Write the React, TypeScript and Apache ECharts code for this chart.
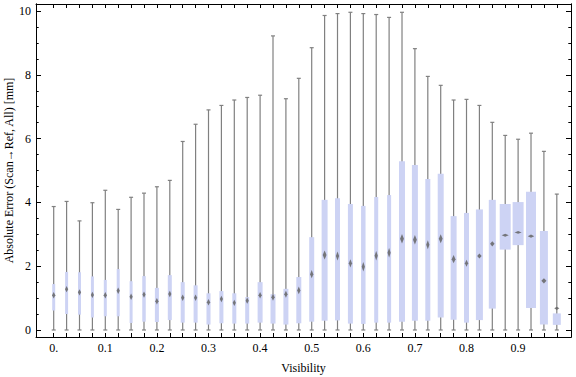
import React, { useEffect, useRef } from 'react';
import * as echarts from 'echarts';

// Box positions (visibility) and statistics (absolute error, mm)
const visibility = [
  0, 0.025, 0.05, 0.075, 0.1, 0.125, 0.15, 0.175, 0.2, 0.225,
  0.25, 0.275, 0.3, 0.325, 0.35, 0.375, 0.4, 0.425, 0.45, 0.475,
  0.5, 0.525, 0.55, 0.575, 0.6, 0.625, 0.65, 0.675, 0.7, 0.725,
  0.75, 0.775, 0.8, 0.825, 0.85, 0.875, 0.9, 0.925, 0.95, 0.975,
];
const whiskerLow = [
  0, 0, 0, 0, 0, 0, 0, 0, 0, 0,
  0, 0, 0, 0, 0, 0, 0, 0, 0, 0,
  0, 0, 0, 0, 0, 0, 0, 0, 0, 0,
  0, 0, 0, 0, 0, 0, 0, 0, 0, 0,
];
const quartile1 = [
  0.61, 0.5, 0.48, 0.39, 0.43, 0.43, 0.22, 0.26, 0.25, 0.31,
  0.23, 0.23, 0.17, 0.21, 0.2, 0.2, 0.23, 0.2, 0.17, 0.21,
  0.26, 0.29, 0.3, 0.2, 0.19, 0.23, 0.23, 0.26, 0.29, 0.29,
  0.39, 0.32, 0.23, 0.31, 0.67, 2.52, 2.66, 0.69, 0.17, 0.16,
];
const median = [
  1.09, 1.28, 1.18, 1.1, 1.09, 1.23, 1.04, 1.11, 0.9, 1.13,
  1.01, 1.01, 0.87, 0.97, 0.85, 0.92, 1.09, 1.03, 1.12, 1.24,
  1.75, 2.35, 2.32, 2.09, 1.98, 2.33, 2.42, 2.86, 2.83, 2.67,
  2.86, 2.22, 2.09, 2.32, 2.7, 2.97, 3.06, 2.94, 1.54, 0.68,
];
const quartile3 = [
  1.44, 1.82, 1.81, 1.68, 1.57, 1.91, 1.53, 1.69, 1.32, 1.72,
  1.5, 1.4, 1.15, 1.22, 1.15, 1.03, 1.5, 1.12, 1.29, 1.66,
  2.91, 4.08, 4.13, 3.95, 3.89, 4.17, 4.23, 5.29, 5.17, 4.73,
  4.9, 3.57, 3.67, 3.78, 4.08, 3.95, 4.01, 4.33, 3.1, 0.52,
];
const whiskerHigh = [
  3.87, 4.03, 3.42, 3.99, 4.38, 3.78, 4.16, 4.29, 4.49, 4.69,
  5.91, 6.45, 6.9, 7.04, 7.21, 7.29, 7.36, 9.22, 7.25, 7.89,
  8.85, 9.86, 9.92, 9.96, 9.92, 9.89, 9.8, 9.96, 8.82, 7.95,
  7.67, 7.21, 7.23, 7.04, 6.51, 6.1, 5.98, 6.17, 5.6, 4.26,
];
// box width (in visibility units) and median-marker half height (mm)
const boxWidth = [
  0.0058, 0.0058, 0.0058, 0.0058, 0.0058, 0.0058, 0.0058, 0.0068, 0.0078, 0.0078,
  0.0078, 0.0078, 0.0078, 0.0078, 0.0078, 0.0078, 0.0097, 0.0097, 0.0097, 0.0097,
  0.0097, 0.0116, 0.0097, 0.0097, 0.0087, 0.0078, 0.0078, 0.0116, 0.0116, 0.0097,
  0.0116, 0.0116, 0.0097, 0.0136, 0.0136, 0.0213, 0.0213, 0.0194, 0.0155, 0.0155,
];
const medianNotch = [
  0.1, 0.1, 0.1, 0.1, 0.1, 0.1, 0.1, 0.1, 0.1, 0.1,
  0.1, 0.1, 0.1, 0.1, 0.1, 0.1, 0.1, 0.11, 0.11, 0.12,
  0.13, 0.14, 0.14, 0.13, 0.15, 0.15, 0.15, 0.15, 0.15, 0.14,
  0.14, 0.13, 0.11, 0.08, 0.08, 0.05, 0.04, 0.05, 0.08, 0.05,
];
const xTickLabels = [0, 0.1, 0.2, 0.3, 0.4, 0.5, 0.6, 0.7, 0.8, 0.9];
const yMajorTicks = [0, 2, 4, 6, 8, 10];
const yMinorTicks = [
  0, 0.5, 1, 1.5, 2, 2.5, 3, 3.5, 4, 4.5, 5,
  5.5, 6, 6.5, 7, 7.5, 8, 8.5, 9, 9.5, 10,
];

export default function App() {
  const ref = useRef<HTMLDivElement>(null);

  useEffect(() => {
    if (!ref.current) return;
    const chart = echarts.init(ref.current, null, { renderer: 'svg' });
    const font = 'Liberation Serif';
    const xMin = -0.0343;
    const xMax = 1.0025;
    const yMin = -0.22;
    const yMax = 10.22;
    const data = visibility.map((v, i) => [
      v, whiskerLow[i], quartile1[i], median[i], quartile3[i], whiskerHigh[i], boxWidth[i], medianNotch[i],
    ]);
    const line = { show: true, lineStyle: { color: '#000', width: 1 } };
    const xAxisBase = (pos: 'bottom' | 'top', labels: boolean) => ({
      type: 'value',
      position: pos,
      min: xMin,
      max: xMax,
      axisLine: { ...line, onZero: false },
      splitLine: { show: false },
      axisTick: { show: true, inside: true, length: 4, customValues: visibility, lineStyle: { color: '#000', width: 1 } },
      axisLabel: labels
        ? {
            show: true,
            customValues: xTickLabels,
            formatter: (v: number) => (v === 0 ? '0.' : v.toFixed(1)),
            fontFamily: font,
            fontSize: 12,
            color: '#000',
            margin: 5,
          }
        : { show: false },
    });
    const yAxisBase = (pos: 'left' | 'right', ticks: number[], len: number, labels: boolean, named: boolean) => ({
      type: 'value',
      position: pos,
      min: yMin,
      max: yMax,
      name: named ? 'Absolute Error (Scan\u2192Ref, All) [mm]' : '',
      nameLocation: 'middle',
      nameGap: 21,
      nameMoveOverlap: false,
      nameTextStyle: { fontFamily: font, fontSize: 12, color: '#000' },
      axisLine: { ...line, onZero: false },
      splitLine: { show: false },
      axisTick: { show: true, inside: true, length: len, customValues: ticks, lineStyle: { color: '#000', width: 1 } },
      axisLabel: labels
        ? { show: true, customValues: yMajorTicks, fontFamily: font, fontSize: 12, color: '#000', margin: 5 }
        : { show: false },
    });

    chart.setOption({
      animation: false,
      backgroundColor: '#fff',
      grid: { left: 36, right: 5, top: 4, bottom: 40, containLabel: false, outerBoundsMode: 'none' },
      xAxis: [
        {
          ...xAxisBase('bottom', true),
          name: 'Visibility',
          nameLocation: 'middle',
          nameGap: 25,
          nameMoveOverlap: false,
          nameTextStyle: { fontFamily: font, fontSize: 12, color: '#000' },
        },
        xAxisBase('top', false),
      ],
      yAxis: [
        yAxisBase('left', yMajorTicks, 5, true, true),
        yAxisBase('left', yMinorTicks, 2.7, false, false),
        yAxisBase('right', yMajorTicks, 5, false, false),
        yAxisBase('right', yMinorTicks, 2.7, false, false),
      ],
      series: [
        {
          type: 'custom',
          xAxisIndex: 0,
          yAxisIndex: 0,
          encode: { x: 0, y: [1, 2, 3, 4, 5] },
          data,
          renderItem: (params: any, api: any) => {
            const x = api.value(0);
            const lo = api.coord([x, api.value(1)]);
            const b1 = api.coord([x, api.value(2)]);
            const md = api.coord([x, api.value(3)]);
            const b3 = api.coord([x, api.value(4)]);
            const hi = api.coord([x, api.value(5)]);
            const w = api.size([api.value(6), 0])[0];
            const nh = api.size([0, api.value(7)])[1];
            const cx = lo[0];
            const cap = 2;
            const ws = { stroke: '#808080', lineWidth: 1.2 };
            const hw = Math.max(1.6, w * 0.32);
            return {
              type: 'group',
              children: [
                { type: 'line', shape: { x1: cx, y1: lo[1], x2: cx, y2: hi[1] }, style: ws },
                { type: 'line', shape: { x1: cx - cap, y1: hi[1], x2: cx + cap, y2: hi[1] }, style: ws },
                { type: 'line', shape: { x1: cx - cap, y1: lo[1], x2: cx + cap, y2: lo[1] }, style: ws },
                {
                  type: 'rect',
                  shape: { x: cx - w / 2, y: b3[1], width: w, height: b1[1] - b3[1] },
                  style: { fill: '#cdd3f4' },
                },
                {
                  type: 'polygon',
                  shape: {
                    points: [
                      [cx, md[1] - nh],
                      [cx + hw, md[1]],
                      [cx, md[1] + nh],
                      [cx - hw, md[1]],
                    ],
                  },
                  style: { fill: 'rgba(100,100,100,0.85)' },
                },
              ],
            };
          },
        },
      ],
    });
    return () => chart.dispose();
  }, []);

  return (
    <div
      ref={ref}
      style={{ position: 'absolute', left: 0, top: 0, width: 576, height: 377, background: '#fff' }}
    />
  );
}
